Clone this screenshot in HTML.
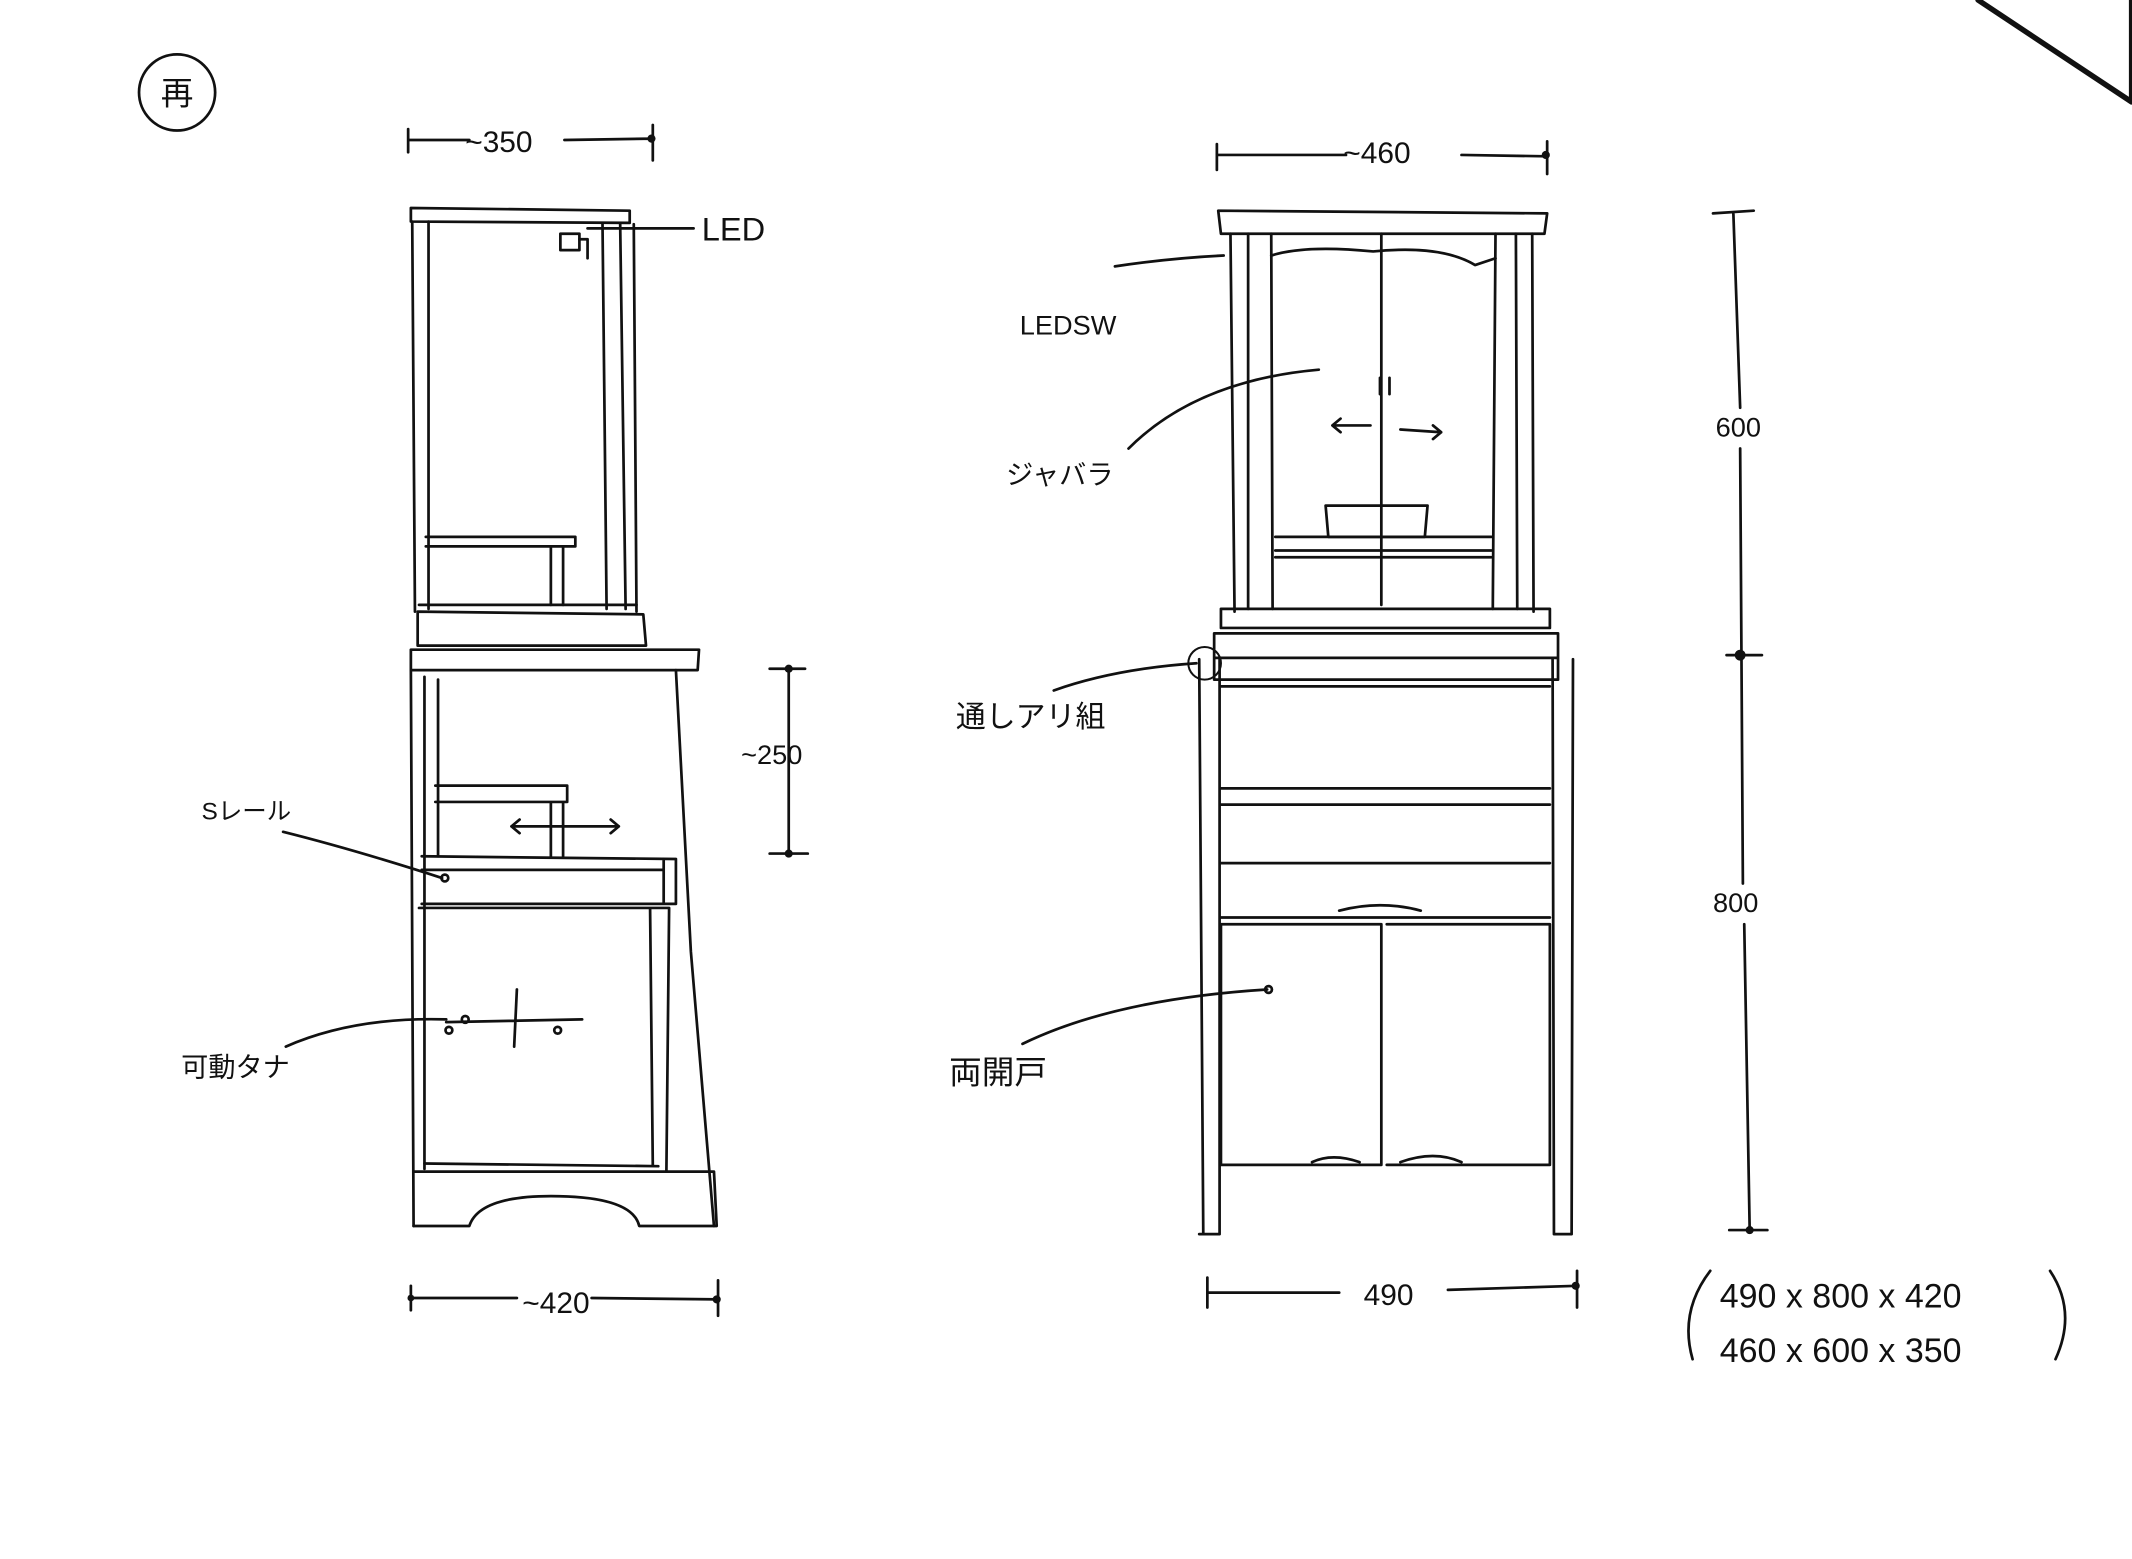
<!DOCTYPE html>
<html><head><meta charset="utf-8"><style>
html,body{margin:0;padding:0;background:#fff;}
svg{display:block;}
text{font-family:"Liberation Sans","Noto Sans CJK JP",sans-serif;fill:#111;}
</style></head><body>
<svg width="2132" height="1559" viewBox="0 0 1568 1147" xmlns="http://www.w3.org/2000/svg">
<g fill="none" stroke="#111" stroke-width="2" stroke-linecap="round" stroke-linejoin="round">
<path d="M1455 0 L1568 75 L1568 0" stroke-width="4"/>
<circle cx="130" cy="68" r="28"/>

<path d="M302 153 L463 155 L463 164 L302 163 Z"/>
<path d="M303 163 L305 450 M315 163 L315 448"/>
<path d="M443 165 L446 448 M456 165 L460 448 M466 165 L468 450"/>
<rect x="412" y="172" width="14" height="12"/>
<path d="M426 176 L432 176 L432 190"/>
<path d="M432 168 L510 168"/>
<path d="M313 395 L423 395 L423 402 L313 402 M405 402 L405 445 M414 402 L414 445"/>
<path d="M308 445 L468 445 M307 450 L473 452 L475 475 L307 475 Z"/>
<path d="M302 478 L514 478 L513 493 L302 493 Z"/>
<path d="M302 493 L304 902 M312 498 L312 860 M322 500 L322 630"/>
<path d="M497 493 L508 700 L525 902"/>
<path d="M320 578 L417 578 L417 590 L320 590 M405 590 L405 630 M414 590 L414 630"/>
<path d="M310 630 L497 632 L497 665 L310 665 M310 640 L488 640 M488 632 L488 665"/>
<path d="M308 668 L492 668 L490 862 M478 668 L480 858 M312 856 L484 858"/>
<path d="M304 862 L525 862 L527 902 L470 902 Q465 880 405 880 Q352 880 345 902 L304 902"/>
<path d="M376 608 L455 608 M382 603 L376 608 L382 613 M449 603 L455 608 L449 613"/>
<path d="M328 752 L428 750 M380 728 L378 770"/>
<circle cx="342" cy="750" r="2.5"/><circle cx="330" cy="758" r="2.5"/><circle cx="410" cy="758" r="2.5"/><circle cx="327" cy="646" r="2.5"/>
<path d="M208 612 Q260 625 325 646"/>
<path d="M210 770 Q260 748 328 750"/>

<path d="M896 155 L1138 157 L1136 172 L898 172 Z"/>
<path d="M905 172 L908 450 M918 172 L918 448 M935 172 L936 448"/>
<path d="M1100 172 L1098 448 M1115 172 L1116 448 M1127 172 L1128 450"/>
<path d="M935 188 Q960 180 1010 185 Q1060 180 1085 195 L1100 190"/>
<path d="M1016 172 L1016 445"/>
<path d="M975 372 L1050 372 L1048 395 L977 395 Z"/>
<path d="M938 395 L1097 395 M938 405 L1097 405 M938 410 L1097 410"/>
<path d="M898 448 L1140 448 L1140 462 L898 462 Z"/>
<path d="M893 466 L1146 466 L1146 500 L893 500 Z M893 484 L1146 484"/>
<path d="M882 485 L885 908 M897 485 L897 908 M882 908 L897 908"/>
<path d="M1142 485 L1143 908 M1157 485 L1156 908 M1143 908 L1156 908"/>
<path d="M898 505 L1140 505 M898 580 L1140 580 M898 592 L1140 592 M898 635 L1140 635 M898 675 L1140 675"/>
<path d="M985 670 Q1015 662 1045 670"/>
<path d="M898 680 L1016 680 L1016 857 L898 857 Z M1020 680 L1140 680 L1140 857 L1020 857"/>
<path d="M965 855 Q980 848 1000 855 M1030 855 Q1055 846 1075 855"/>
<path d="M980 313 L1008 313 M986 308 L980 313 L986 318 M1030 316 L1060 318 M1054 313 L1060 318 L1054 323 M1015 278 L1015 290 M1022 278 L1022 290"/>
<path d="M900 188 Q860 190 820 196"/>
<path d="M830 330 Q880 280 970 272"/>
<path d="M775 508 Q820 492 880 488"/>
<circle cx="886" cy="488" r="12" stroke-width="1.5"/>
<path d="M752 768 Q820 735 932 728"/>
<circle cx="933" cy="728" r="2.5"/>

<path d="M300 95 L300 112 M300 103 L345 103 M415 103 L480 102 M480 92 L480 118"/>
<path d="M895 106 L895 125 M895 114 L990 114 M1075 114 L1138 115 M1138 104 L1138 128"/>
<path d="M302 946 L302 964 M302 955 L380 955 M435 955 L528 956 M528 942 L528 968"/>
<path d="M888 940 L888 962 M888 951 L985 951 M1065 949 L1160 946 M1160 935 L1160 962"/>
<path d="M1260 157 L1290 155 M1275 157 L1280 300 M1280 330 L1282 650 M1283 680 L1287 905 M1270 482 L1296 482 M1272 905 L1300 905"/>
<path d="M566 492 L592 492 M580 492 L580 628 M566 628 L594 628"/>
<path d="M1258 935 Q1235 965 1245 1000 M1508 935 Q1528 965 1512 1000"/>
</g>
<g fill="#111">
<circle cx="479" cy="102" r="3"/><circle cx="1137" cy="114" r="3"/><circle cx="302" cy="955" r="2.5"/><circle cx="527" cy="956" r="3"/>
<circle cx="1159" cy="946" r="3"/><circle cx="1280" cy="482" r="4"/><circle cx="1287" cy="905" r="3"/><circle cx="580" cy="492" r="3"/><circle cx="580" cy="628" r="3"/>
</g>
<g font-size="22">
<text x="118" y="77" font-size="24">再</text>
<text x="342" y="112">~350</text>
<text x="988" y="120">~460</text>
<text x="384" y="966">~420</text>
<text x="1003" y="960">490</text>
<text x="1262" y="321" font-size="20">600</text>
<text x="1260" y="671" font-size="20">800</text>
<text x="545" y="562" font-size="20">~250</text>
<text x="516" y="177" font-size="24">LED</text>
<text x="750" y="246" font-size="20">LEDSW</text>
<text x="740" y="356" font-size="20">ジャバラ</text>
<text x="703" y="535" font-size="22">通しアリ組</text>
<text x="148" y="603" font-size="18">Sレール</text>
<text x="133" y="792" font-size="20">可動タナ</text>
<text x="698" y="797" font-size="24">両開戸</text>
<text x="1265" y="962" font-size="25">490 x 800 x 420</text>
<text x="1265" y="1002" font-size="25">460 x 600 x 350</text>
</g>
</svg>
</body></html>
